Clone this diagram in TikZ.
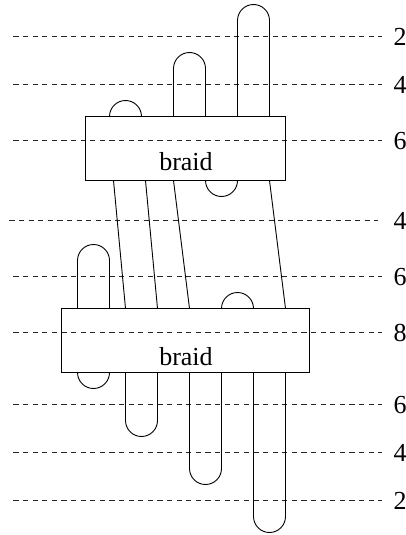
\documentclass[tikz,border=0pt]{standalone}
\usepackage{fontspec}
\setmainfont{Liberation Serif}
\newcommand{\capup}[3]{\draw[strand] (#1,#2) -- (#1,#3+16) arc[start angle=180,end angle=360,radius=16] -- (#1+32,#2);}
\newcommand{\capdown}[3]{\draw[strand] (#1,#2) -- (#1,#3-16) arc[start angle=180,end angle=0,radius=16] -- (#1+32,#2);}
\tikzset{
  strand/.style={line width=0.9pt,black},
  level/.style={line width=0.8pt,black!85,dash pattern=on 5.3pt off 4.3pt},
  braidbox/.style={draw,line width=0.9pt,inner sep=0pt,minimum height=64pt},
  txt/.style={inner sep=0pt,anchor=base,font=\fontsize{26}{26}\selectfont},
}
\begin{document}
\begin{tikzpicture}[x=1pt,y=-1pt]
\useasboundingbox (0,0) rectangle (406,535);
% levels
\foreach \n/\y/\a/\b/\t in {a/36.5/13.3/381.7/2,b/84.5/13.3/381.7/4,c/140.5/13.3/381.7/6,d/220.5/9.3/377.7/4,e/276.5/13.3/381.7/6,f/332.5/13.3/381.7/8,g/404.5/13.3/381.7/6,h/452.5/13.3/381.7/4,i/500.5/13.3/381.7/2}{
  \coordinate (s\n) at (\a,\y);
  \coordinate (e\n) at (\b,\y);
  \draw[level] (s\n) -- (e\n);
  \node[txt] (l\n) at (400,\y+9.3) {\t};
}
% boxes
\node[braidbox,minimum width=200pt] (top) at (185.5,148.5) {};
\node[braidbox,minimum width=248pt] (bot) at (185.5,340.5) {};
\node[txt] (toplabel) at (186,170) {braid};
\node[txt] (botlabel) at (186,365) {braid};
% strands above top box
\capup{237.5}{116.5}{4.5}
\capup{173.5}{116.5}{52.5}
\capup{109.5}{116.5}{100.5}
% under top box
\capdown{205.5}{180.5}{196.5}
% between boxes
\draw[strand] (113.5,180.5) -- (125.5,308.5);
\draw[strand] (145.5,180.5) -- (157.5,308.5);
\draw[strand] (173.5,180.5) -- (189.5,308.5);
\draw[strand] (269.5,180.5) -- (285.5,308.5);
% above bottom box
\capup{77.5}{308.5}{244.5}
\capup{221.5}{308.5}{292.5}
% below bottom box
\capdown{77.5}{372.5}{388.5}
\capdown{125.5}{372.5}{436.5}
\capdown{189.5}{372.5}{484.5}
\capdown{253.5}{372.5}{532.5}
\end{tikzpicture}
\end{document}
